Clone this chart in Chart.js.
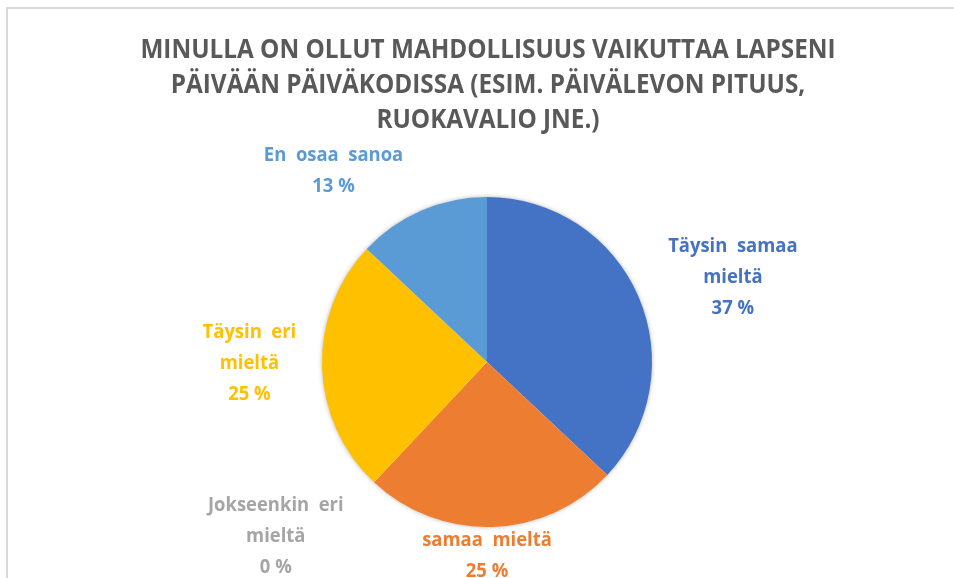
<!DOCTYPE html>
<html>
<head>
<meta charset="utf-8">
<script src="https://cdn.jsdelivr.net/npm/chart.js@4"></script>
<style>
  html, body { margin: 0; padding: 0; background: #fff; }
  #wrap { position: relative; width: 954px; height: 578px; }
</style>
</head>
<body>
<div id="wrap"><canvas id="pieChart" width="954" height="578"></canvas></div>
<script>
// chart data
const titleLines = [
  'MINULLA ON OLLUT MAHDOLLISUUS VAIKUTTAA LAPSENI',
  'PÄIVÄÄN PÄIVÄKODISSA (ESIM. PÄIVÄLEVON PITUUS,',
  'RUOKAVALIO JNE.)'
];
const categories = ['Täysin samaa mieltä', 'samaa mieltä', 'Jokseenkin eri mieltä', 'Täysin eri mieltä', 'En osaa sanoa'];
const labelLines = [['Täysin  samaa', 'mieltä'], ['samaa  mieltä'], ['Jokseenkin  eri', 'mieltä'], ['Täysin  eri', 'mieltä'], ['En  osaa  sanoa']];
const percentages = [37, 25, 0, 25, 13];
const sliceColors = ['#4472C4', '#ED7D31', '#A5A5A5', '#FFC000', '#5B9BD5'];

// where each label block sits, relative to pie centre, in units of the radius
const labelOffsets = [
  { dx: 1.49, dy: -0.71 },
  { dx: 0.0, dy: 1.07 },
  { dx: -1.28, dy: 0.86 },
  { dx: -1.44, dy: -0.19 },
  { dx: -0.93, dy: -1.26 }
];

// draws text centred at x with a horizontal squeeze, to get a Calibri-like width
const drawSqueezed = (ctx, text, x, y, sx) => {
  ctx.save();
  ctx.translate(x, y);
  ctx.scale(sx, 1);
  ctx.fillText(text, 0, 0);
  ctx.restore();
};

const frameAndTitle = {
  id: 'frameAndTitle',
  beforeDraw(chart) {
    const ctx = chart.ctx;
    ctx.save();
    ctx.strokeStyle = '#d9d9d9';
    ctx.lineWidth = 2;
    ctx.beginPath();
    ctx.moveTo(7, 600);
    ctx.lineTo(7, 8);
    ctx.lineTo(960, 8);
    ctx.stroke();

    ctx.fillStyle = '#595959';
    ctx.font = 'bold 27px "Open Sans", sans-serif';
    ctx.textAlign = 'center';
    ctx.textBaseline = 'alphabetic';
    titleLines.forEach((line, i) => {
      drawSqueezed(ctx, line, 488, 58 + i * 35, 0.9);
    });
    ctx.restore();
  },
  beforeDatasetsDraw(chart) {
    // soft shadow behind the whole pie
    const arc = chart.getDatasetMeta(0).data[0];
    const ctx = chart.ctx;
    ctx.save();
    ctx.shadowColor = 'rgba(0,0,0,0.35)';
    ctx.shadowBlur = 5;
    ctx.fillStyle = '#fff';
    ctx.beginPath();
    ctx.arc(arc.x, arc.y, arc.outerRadius - 0.5, 0, Math.PI * 2);
    ctx.fill();
    ctx.restore();
  },
  afterDraw(chart) {
    const ctx = chart.ctx;
    const arc = chart.getDatasetMeta(0).data[0];
    const r = arc.outerRadius;
    ctx.save();
    ctx.font = 'bold 19px "Open Sans", sans-serif';
    ctx.textAlign = 'center';
    ctx.textBaseline = 'alphabetic';
    labelLines.forEach((lines, i) => {
      const all = lines.concat([percentages[i] + ' %']);
      const x = arc.x + labelOffsets[i].dx * r;
      const y = arc.y + labelOffsets[i].dy * r;
      ctx.fillStyle = sliceColors[i];
      all.forEach((t, j) => {
        drawSqueezed(ctx, t, x, y + 7 + j * 31, 0.97);
      });
    });
    ctx.restore();
  }
};

const ctx = document.getElementById('pieChart');
new Chart(ctx, {
  type: 'pie',
  data: {
    labels: categories,
    datasets: [{
      data: percentages,
      backgroundColor: sliceColors,
      borderWidth: 0
    }]
  },
  options: {
    responsive: false,
    animation: false,
    layout: { padding: { top: 197, bottom: 51, left: 200, right: 180 } },
    plugins: {
      legend: { display: false },
      tooltip: { enabled: false },
      title: { display: false }
    }
  },
  plugins: [frameAndTitle]
});
</script>
</body>
</html>
